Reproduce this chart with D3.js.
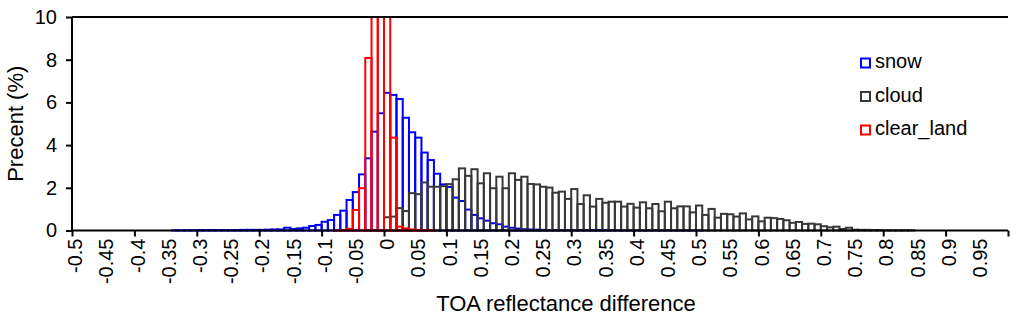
<!DOCTYPE html>
<html><head><meta charset="utf-8">
<script src="https://cdn.jsdelivr.net/npm/d3@7"></script>
<style>
html,body{margin:0;padding:0;background:#fff;}
svg{display:block;}
text{font-family:"Liberation Sans",Arial,sans-serif;fill:#000;}
</style></head>
<body>
<svg id="chart" width="1024" height="323"></svg>
<script>
// ---- data ----
const binWidth = 0.01;
const seriesNames = ["snow", "cloud", "clear_land"];
const seriesColors = ["#0000ff", "#383838", "#ff0000"];

// snow histogram (% per 0.01 bin), first bin starts at snowStart
const snowStart = -0.34;
const snow = [0.01,0.01,0.01,0.01,0.02,0.02,0.02,0.02,0.02,0.02,
  0.02,0.03,0.03,0.03,0.03,0.04,0.05,0.05,0.13,0.07,
  0.10,0.13,0.21,0.26,0.41,0.49,0.73,0.93,1.43,1.80,
  2.63,3.38,4.63,5.49,6.45,6.35,6.16,5.28,4.60,4.35,
  3.65,3.30,2.66,2.16,2.04,1.54,1.38,0.98,0.73,0.57,
  0.46,0.34,0.29,0.18,0.13,0.09,0.06,0.05,0.04,0.03,
  0.02,0.02,0.02,0.02,0.02,0.02,0.02,0.02,0.02,0.02,
  0.01,0.01,0.01,0.01,0.01,0.01,0.01,0.01,0.01,0.01,
  0.01,0.01,0.01,0.01,0.01];

// cloud histogram
const cloudStart = -0.03;
const cloud = [0.01,0.01,0.02,
  0.62,0.65,1.05,0.91,1.75,1.70,2.25,2.05,2.05,2.08,
  2.17,2.40,2.91,2.56,2.87,2.21,2.68,1.98,2.52,1.98,
  2.68,2.37,2.52,2.18,2.16,2.05,2.01,1.77,1.82,1.48,
  1.94,1.24,1.65,1.12,1.48,1.30,1.35,1.35,1.12,1.25,
  1.07,1.32,1.04,1.24,0.90,1.35,1.04,1.13,1.13,0.85,
  1.17,0.73,1.01,0.60,0.78,0.76,0.65,0.80,0.52,0.66,
  0.43,0.60,0.58,0.54,0.48,0.36,0.40,0.31,0.32,0.29,
  0.20,0.15,0.18,0.07,0.13,0.04,0.03,0.03,0.02,0.02,
  0.01,0.01,0.01,0.01,0.01];

// clear_land histogram (three central bins exceed the 10 % axis limit)
const clearStart = -0.08;
const clearLand = [0.01,0.02,0.08,0.96,1.98,8.08,16.0,22.0,14.0,4.35,
  0.18,0.10,0.05,0.03,0.02,0.01];

const xTickLabels = ["-0.5","-0.45","-0.4","-0.35","-0.3","-0.25","-0.2","-0.15","-0.1","-0.05",
  "0","0.05","0.1","0.15","0.2","0.25","0.3","0.35","0.4","0.45",
  "0.5","0.55","0.6","0.65","0.7","0.75","0.8","0.85","0.9","0.95"];
const xMajorTicks = [-0.5,-0.4,-0.3,-0.2,-0.1,0,0.1,0.2,0.3,0.4,0.5,0.6,0.7,0.8,0.9,1.0];
const yTicks = [0,2,4,6,8,10];

// ---- layout ----
const svg = d3.select("#chart");
const mLeft = 72, mRight = 1008, mTop = 17, mBottom = 230.5;
const x = d3.scaleLinear().domain([-0.5, 1.0]).range([mLeft, mRight]);
const y = d3.scaleLinear().domain([0, 10]).range([mBottom, mTop]);

svg.append("defs").append("clipPath").attr("id","plotclip")
  .append("rect").attr("x", mLeft-2).attr("y", mTop).attr("width", mRight-mLeft+4).attr("height", mBottom-mTop+2);

function toBins(start, vals){
  return vals.map((v,i)=>({x0: +(start + i*binWidth).toFixed(3), v}));
}
const allSeries = [toBins(snowStart, snow), toBins(cloudStart, cloud), toBins(clearStart, clearLand)];

const plot = svg.append("g").attr("clip-path","url(#plotclip)");
allSeries.forEach((bins, si)=>{
  plot.append("g").selectAll("rect").data(bins).join("rect")
    .attr("x", d=>x(d.x0))
    .attr("width", d=>x(d.x0+binWidth)-x(d.x0))
    .attr("y", d=>y(d.v))
    .attr("height", d=>y(0)-y(d.v))
    .attr("fill","none")
    .attr("stroke", seriesColors[si])
    .attr("stroke-width", 2);
});

// top border
svg.append("line").attr("x1",mLeft).attr("x2",mRight).attr("y1",mTop).attr("y2",mTop)
  .attr("stroke","#000").attr("stroke-width",2);

// y axis
const yAxis = d3.axisLeft(y).tickValues(yTicks).tickSize(6).tickPadding(9).tickFormat(d3.format("d"));
const gy = svg.append("g").attr("transform",`translate(${mLeft},0)`).call(yAxis);
gy.select(".domain").attr("stroke","#000").attr("stroke-width",2).attr("d",`M0,${mTop}V${mBottom+1}`);
gy.selectAll(".tick line").attr("stroke","#000").attr("stroke-width",2);
gy.selectAll(".tick text").attr("font-size",20).attr("font-family","Liberation Sans, Arial, sans-serif").attr("fill","#000");

// x axis
const xAxis = d3.axisBottom(x).tickValues(xMajorTicks).tickSize(6).tickFormat("");
const gx = svg.append("g").attr("transform",`translate(0,${mBottom})`).call(xAxis);
gx.select(".domain").attr("stroke","#000").attr("stroke-width",2).attr("d",`M${mLeft-1},0H${mRight}`);
gx.selectAll(".tick line").attr("stroke","#000").attr("stroke-width",2);

// x tick labels at category centres, rotated
svg.append("g").selectAll("text").data(xTickLabels).join("text")
  .attr("transform", d=>`translate(${x(+d + binWidth/2)},${mBottom+8}) rotate(-90)`)
  .attr("text-anchor","end")
  .attr("dy","0.35em")
  .attr("font-size",20)
  .text(d=>d);

// axis titles
svg.append("text").attr("x",566).attr("y",311).attr("text-anchor","middle")
  .attr("font-size",22).text("TOA reflectance difference");
svg.append("text").attr("transform",`translate(22.5,${(mTop+mBottom)/2}) rotate(-90)`)
  .attr("text-anchor","middle").attr("font-size",22).text("Precent (%)");

// legend
const legendY = [68, 101.5, 135];
const lg = svg.append("g");
seriesNames.forEach((n,i)=>{
  lg.append("rect").attr("x",861).attr("y",legendY[i]-9.5).attr("width",9).attr("height",9)
    .attr("fill","#fff").attr("stroke",seriesColors[i]).attr("stroke-width",2);
  lg.append("text").attr("x",875).attr("y",legendY[i]).attr("font-size",20).text(n);
});
</script>
</body></html>
